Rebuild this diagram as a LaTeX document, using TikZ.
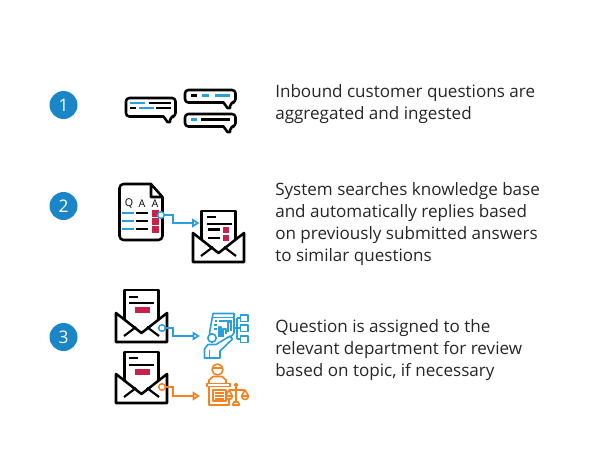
\documentclass[tikz,border=0pt]{standalone}
\usepackage{fontspec}
\setmainfont{Open Sans}
\usetikzlibrary{arrows.meta,positioning,calc}
\definecolor{stepblue}{HTML}{1A86C8}
\definecolor{iconblue}{HTML}{2B9FDC}
\definecolor{iconorange}{HTML}{F58220}
\definecolor{iconred}{HTML}{C8214A}
\def \darkW {1.9pt}
\def \thinW {1.6pt}
\def \iconW {1.2pt}
\tikzset{
	stepbadge/.style= {circle, fill=stepblue, text=white, minimum size=21pt, inner sep=0pt, font=\fontsize{13}{13}\selectfont},
	steptext/.style= {anchor=west, align=left, inner sep=0pt, text=black!85, font=\fontsize{12.8}{16.4}\selectfont},
	qalabel/.style= {inner sep=0pt, font=\fontsize{8}{8}\selectfont},
	dark/.style= {draw=black, line width=\darkW, line join=round},
	darkline/.style= {draw=black, line width=\thinW},
	blueline/.style= {draw=iconblue, line width=\thinW},
	redbox/.style= {fill=iconred},
	linkdot/.style= {circle, draw=#1, fill=white, line width=1.1pt, minimum size=5pt, inner sep=0pt},
	linkarrow/.style= {draw=#1, line width=1.3pt, -{Triangle[open, fill=white, length=5.5pt, width=6.5pt]}},
	blueicon/.style= {draw=iconblue, line width=\iconW, line join=round, fill=none},
	orangeicon/.style= {draw=iconorange, line width=\iconW, line join=round, fill=none}
}
% x1 y1 x2 y2: one speech bubble with its tail at the lower right
\def \bubble #1#2#3#4{
	\draw[dark, rounded corners=2.5pt] (#1,#2) -- (#3,#2) -- (#3,#4) -- (#3-5,#4) {[sharp corners] -- (#3-5.5,#4+5.5) -- (#3-8,#4+5.5) -- (#3-12,#4)} -- (#1,#4) -- cycle;
}
% x: left edge of envelope, y: top edge of its body, t: top edge of the letter
\def \envelope #1#2#3{
	\draw[dark, fill=white] (#1+8.5,#2+6) -- (#1+8.5,#3) -- (#1+42.5,#3) -- (#1+42.5,#2+6);
	\draw[dark] (#1,#2) -- (#1,#2+29) -- (#1+51,#2+29) -- (#1+51,#2) -- (#1+25.5,#2+20) -- cycle;
	\draw[dark, line width=\thinW] (#1+8,#2+23) -- (#1+20,#2+14);
	\draw[dark, line width=\thinW] (#1+43,#2+23) -- (#1+31,#2+14);
}

\begin{document}
\begin{tikzpicture}[x=0.75pt,y=-0.75pt]
	\useasboundingbox (0,0) rectangle (600,469);

%%%%%%%%%%%%%%%%%%%%% Steps %%%%%%%%%%%%%%%%%%%%%
	\node [stepbadge] (B1) at (63.5,105) {1};
	\node [stepbadge] (B2) at (63.5,206) {2};
	\node [stepbadge] (B3) at (63.5,337) {3};

	\node [steptext] (T1) at (275,104) {Inbound customer questions are\\aggregated and ingested};
	\node [steptext] (T2) at (275,224) {System searches knowledge base\\and automatically replies based\\on previously submitted answers\\to similar questions};
	\node [steptext] (T3) at (275,350) {Question is assigned to the\\relevant department for review\\based on topic, if necessary};

%%%%%%%%%%%%%%%%%%%%% Bubbles %%%%%%%%%%%%%%%%%%%%%
	\bubble{126}{98}{175.5}{116.5}
	\bubble{185}{90}{235.5}{102.5}
	\bubble{185}{114}{235.5}{126.5}

	\draw[blueline] (130,103) -- (145,103);
	\draw[darkline] (149,103) -- (171,103);
	\draw[darkline] (130,108) -- (136,108);
	\draw[blueline] (139,108) -- (154,108);
	\draw[darkline] (156,108) -- (171,108);
	\draw[darkline] (191,95.5) -- (197,95.5);
	\draw[blueline] (202,95.5) -- (209,95.5);
	\draw[blueline] (215,95.5) -- (230,95.5);
	\draw[blueline] (191,119.5) -- (197,119.5);
	\draw[darkline] (201,119.5) -- (230,119.5);

%%%%%%%%%%%%%%%%%%%%% Sheet %%%%%%%%%%%%%%%%%%%%%
	\draw[dark, rounded corners=3pt] (151,184) -- (119.5,184) -- (119.5,240) -- (162.5,240) -- (162.5,197);
	\draw[dark] (151,184) -- (162.5,197) -- (151,197) -- cycle;
	\node [qalabel] (Q) at (129,204) {Q};
	\node [qalabel] (A1) at (142,204) {A};
	\node [qalabel] (A2) at (155,204) {A};
	\foreach \y in {213,221,229}{
		\draw[blueline] (122,\y) -- (134,\y);
		\draw[darkline] (136,\y) -- (148,\y);
		\fill[redbox] (152,\y-3.5) rectangle (159,\y+3.5);
	}

%%%%%%%%%%%%%%%%%%%%% Envelopes %%%%%%%%%%%%%%%%%%%%%
	\envelope{193}{233}{211}
	\draw[darkline] (207,217) -- (216,217);
	\draw[darkline] (207,224) -- (232,224);
	\draw[darkline] (208,229.5) -- (220,229.5);
	\fill[redbox] (223,226.5) rectangle (229,232.5);
	\draw[darkline] (208,238) -- (220,238);
	\fill[redbox] (223,235) rectangle (229,241);

	\envelope{116}{313}{290}
	\draw[darkline] (129,297) -- (138,297);
	\draw[darkline] (129,303) -- (154,303);
	\fill[redbox] (135,307) rectangle (150,313);

	\envelope{116}{374}{352}
	\draw[darkline] (129,358) -- (138,358);
	\draw[darkline] (129,365) -- (154,365);
	\fill[redbox] (135,369) rectangle (150,375);

%%%%%%%%%%%%%%%%%%%%% Blue icon %%%%%%%%%%%%%%%%%%%%%
	\draw[blueicon] (213,336) -- (209.5,333) -- (213,313.5) -- (234,313.5) -- (234,333) -- (230,338);
	\draw[blueicon] (213,317.5) -- (234,317.5);
	\draw[blueicon] (219,321) -- (232,321);
	\draw[blueicon] (215,321) -- (217,321) (214,325) -- (217,325) (214,329) -- (217,329);
	\draw[blueicon] (219,337) -- (219,327) -- (221,327) -- (221,337);
	\draw[blueicon] (223,337) -- (223,329) -- (226,329) -- (226,334);
	\draw[blueicon] (228,332) -- (228,322) -- (231,322) -- (231,331);
	\draw[blueicon] (234,328) -- (240,328) (237,318) -- (237,339) (237,318) -- (240,318) (237,339) -- (240,339);
	\draw[blueicon] (240.5,315) rectangle (248,321.5);
	\draw[blueicon] (240.5,325) rectangle (248,331.5);
	\draw[blueicon] (240.5,336) rectangle (248,342.5);
	\draw[blueicon, fill=white] (212,338) circle (4.2);
	\draw[blueicon] (204.5,358) -- (204.5,349) -- (208,344.5) -- (216,344.5) -- (230,336) -- (232.5,339) -- (220,351) -- (220,358) -- cycle;
	\draw[blueicon] (209.5,350) -- (209.5,358);

%%%%%%%%%%%%%%%%%%%%% Orange icon %%%%%%%%%%%%%%%%%%%%%
	\draw[orangeicon] (217.5,369.5) circle (5.5);
	\draw[orangeicon] (212,368) -- (223,368);
	\draw[orangeicon] (209,383) -- (209,380) -- (213,376.5) -- (222,376.5) -- (226,380) -- (226,383);
	\draw[orangeicon] (207,383.5) rectangle (230,386.5);
	\draw[orangeicon] (209,386.5) -- (209,405) -- (229,405) -- (229,398);
	\draw[orangeicon] (213,390) rectangle (226,401);
	\draw[orangeicon] (215,393) -- (224,393) (215,396) -- (224,396) (215,399) -- (224,399);
	\draw[orangeicon] (236,385) circle (1.6);
	\draw[orangeicon] (236,387) -- (236,402) (232.5,405) -- (239.5,405) -- (238,402) -- (234,402) -- cycle;
	\draw[orangeicon] (229,390) -- (245,390);
	\draw[orangeicon] (229,390) -- (225.5,396) (229,390) -- (232.5,396) (245,390) -- (241.5,396) (245,390) -- (248.5,396);
	\draw[orangeicon] (225.5,396) arc (180:0:3.5) -- cycle (241.5,396) arc (180:0:3.5) -- cycle;

%%%%%%%%%%%%%%%%%%%%% Links %%%%%%%%%%%%%%%%%%%%%
	\node [linkdot=iconblue] (D1) at (161,215) {};
	\coordinate (J1) at (173,223);
	\coordinate (E1) at (199.5,223);
	\draw[linkarrow=iconblue] (D1) -| (J1) -- (E1);

	\node [linkdot=iconblue] (D2) at (162,328) {};
	\coordinate (J2) at (173,336);
	\coordinate (E2) at (200,336);
	\draw[linkarrow=iconblue] (D2) -| (J2) -- (E2);

	\node [linkdot=iconorange] (D3) at (162,387) {};
	\coordinate (J3) at (173,396);
	\coordinate (E3) at (200,396);
	\draw[linkarrow=iconorange] (D3) -| (J3) -- (E3);
\end{tikzpicture}
\end{document}
